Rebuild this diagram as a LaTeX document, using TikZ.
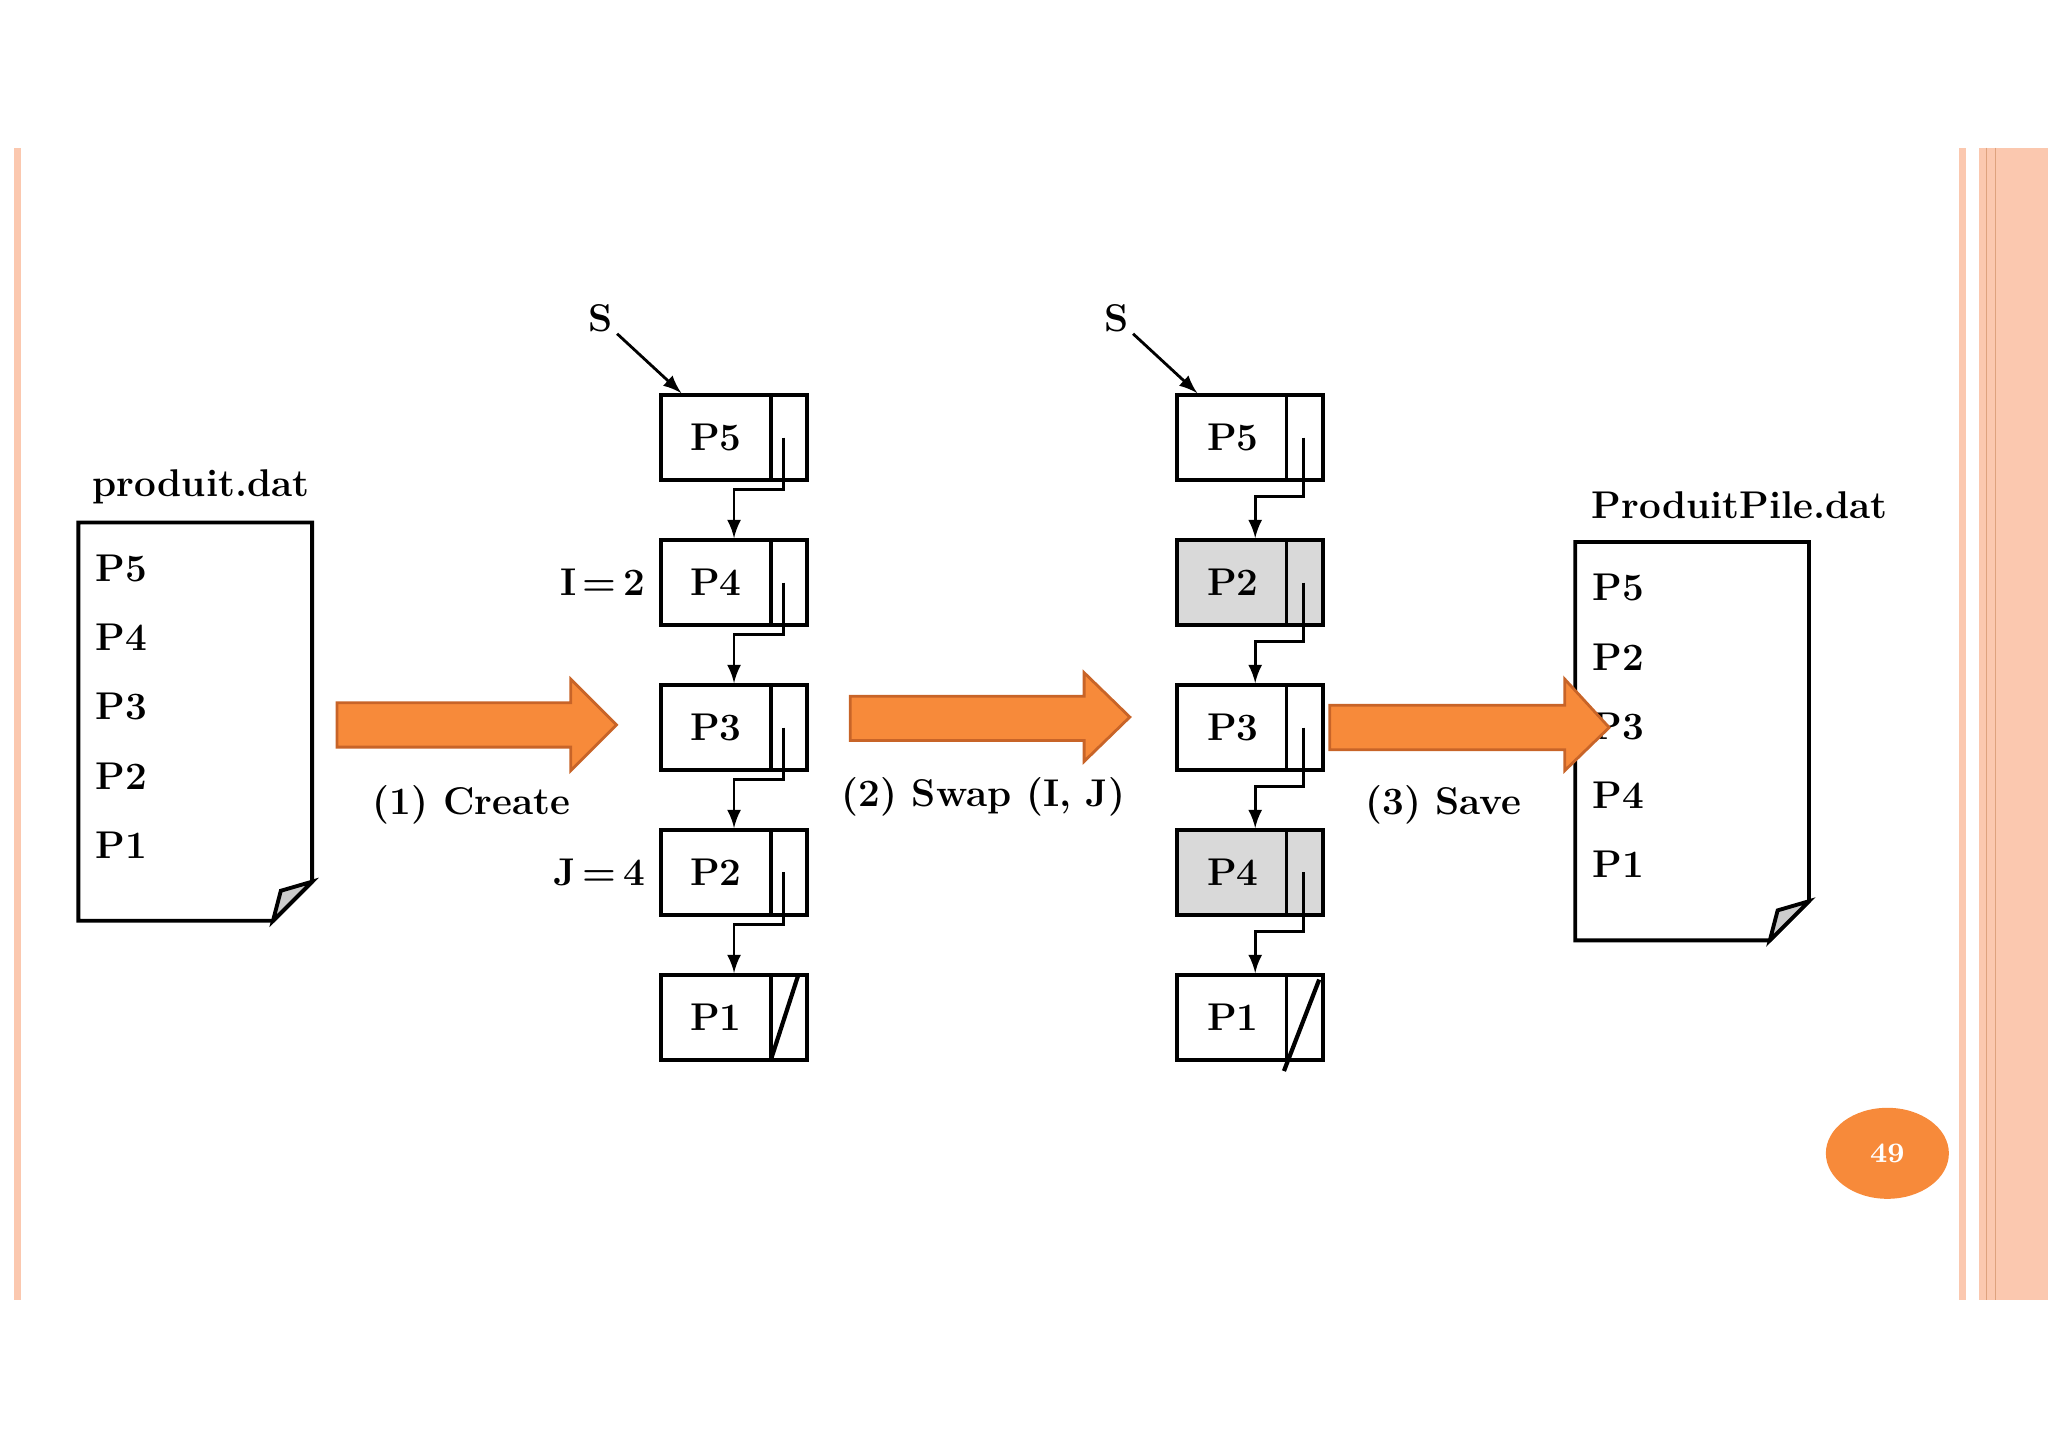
\documentclass[tikz,border=0pt]{standalone}
\usetikzlibrary{positioning,calc,shapes.geometric}
\definecolor{orng}{RGB}{247,138,58}
\definecolor{orngdk}{RGB}{200,100,40}
\definecolor{salmon}{RGB}{251,200,175}
\tikzset{
	cell/.style={draw, line width=1.1pt, rectangle, inner sep=0pt, minimum width=14.6mm, minimum height=8.5mm},
	hot/.style={cell, fill=black!15},
	txt/.style={font=\fontsize{11}{13}\selectfont\bfseries, inner sep=1pt},
	fatarrow/.style={draw=orngdk, thick, fill=orng},
	link/.style={thick, black, ->, >=latex}
}
\begin{document}
\begin{tikzpicture}[x=0.1306mm, y=-0.1306mm]
	\useasboundingbox (0,0) rectangle (1568,1108);
	% slide frame
	\fill[salmon] (11,113) rectangle (16,995);
	\fill[salmon] (1500,113) rectangle (1505,995);
	\fill[salmon] (1515,113) rectangle (1568,995);
	\draw[orngdk!60] (1521,113) -- (1521,995) (1528,113) -- (1528,995);
	\node (pg) [ellipse, fill=orng, minimum width=12.3mm, minimum height=9.1mm, text=white, font=\fontsize{8}{9}\selectfont\bfseries] at (1445,883) {49};
	
	% input file
	\draw[line width=1.1pt] (60,400) -- (239,400) -- (239,675) -- (209,705) -- (60,705) -- cycle;
	\draw[line width=1.1pt, fill=black!20] (239,675) -- (215,682) -- (209,705) -- cycle;
	\node (f1) [txt] at (154,373) {produit.dat};
	\foreach \p [count=\i] in {P5,P4,P3,P2,P1}
		\node (f1p\i) [txt, anchor=west] at (70,435+53*\i-53) {\p};
	
	% output file
	\draw[line width=1.1pt] (1206,415) -- (1385,415) -- (1385,690) -- (1355,720) -- (1206,720) -- cycle;
	\draw[line width=1.1pt, fill=black!20] (1385,690) -- (1361,697) -- (1355,720) -- cycle;
	\node (f2) [txt] at (1332,387) {ProduitPile.dat};
	\foreach \p [count=\i] in {P5,P2,P3,P4,P1}
		\node (f2p\i) [txt, anchor=west] at (1216,450+53*\i-53) {\p};
	
	% big arrows
	\draw[fatarrow] (258,538) -- (437,538) -- (437,520) -- (472,555) -- (437,590) -- (437,572) -- (258,572) -- cycle;
	\draw[fatarrow] (651,533) -- (830,533) -- (830,515) -- (865,549) -- (830,583) -- (830,567) -- (651,567) -- cycle;
	\draw[fatarrow] (1018,540) -- (1198,540) -- (1198,520) -- (1232,557) -- (1198,590) -- (1198,574) -- (1018,574) -- cycle;
	\node (l1) [txt] at (361,616) {(1) Create};
	\node (l2) [txt] at (753,610) {(2) Swap (I, J)};
	\node (l3) [txt] at (1105,616) {(3) Save};
	
	% first list
	\foreach \p [count=\i] in {P5,P4,P3,P2,P1} {
		\node (a\i) [cell] at (562,335+111*\i-111) {};
		\draw[line width=1.1pt] (590,303+111*\i-111) -- (590,368+111*\i-111);
		\node [txt] at (548,335+111*\i-111) {\p};
	}
	\foreach \i [evaluate=\i as \j using int(\i+1)] in {1,...,4}
		\draw[link] ($(a\i)+(38,0)$) |- ($(a\i)+(0,40)$) -- (a\j.north);
	\draw[very thick] (590,812) -- (611,747);
	\node (s1) [txt] at (460,244) {S};
	\draw[link] (s1) -- ($(a1.north west)+(17,0)$);
	\node (i) [txt, left=1mm of a2] {I\,=\,2};
	\node (j) [txt, left=1mm of a4] {J\,=\,4};
	
	% second list
	\foreach \p/\st [count=\i] in {P5/cell,P2/hot,P3/cell,P4/hot,P1/cell} {
		\node (b\i) [\st] at (957,335+111*\i-111) {};
		\draw[line width=1.1pt] (985,303+111*\i-111) -- (985,368+111*\i-111);
		\node [txt] at (944,335+111*\i-111) {\p};
	}
	\foreach \i [evaluate=\i as \j using int(\i+1)] in {1,...,4}
		\draw[link] ($(b\i)+(41,0)$) |- ($(b\i)+(4,45)$) -- ($(b\j.north)+(4,0)$);
	\draw[very thick] (983,820) -- (1010,750);
	\node (s2) [txt] at (855,244) {S};
	\draw[link] (s2) -- ($(b1.north west)+(17,0)$);
\end{tikzpicture}
\end{document}
